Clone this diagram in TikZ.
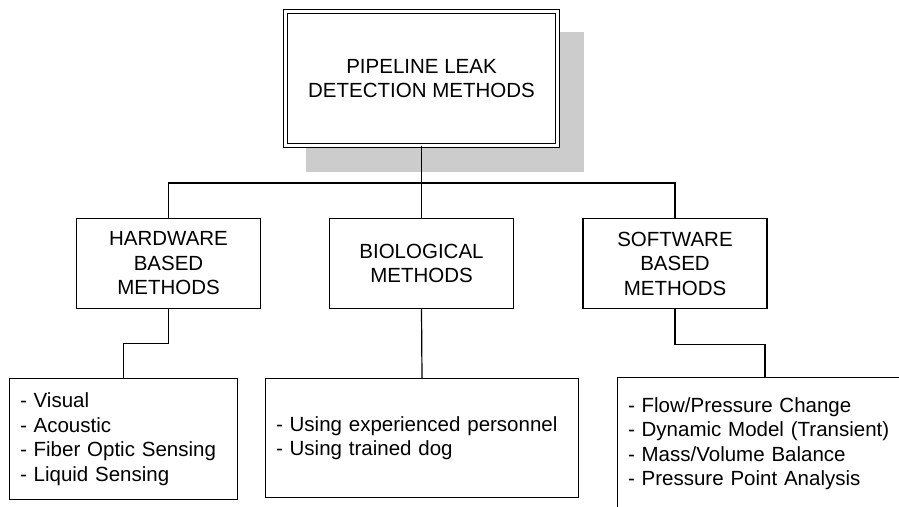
\documentclass[tikz,border=0pt]{standalone}
\usepackage{fontspec}
\setmainfont{Liberation Sans}
\usepackage{tikz}
\usetikzlibrary{calc}

\begin{document}
\begin{tikzpicture}[x=1pt,y=-1pt,
		every node/.style={font=\fontsize{20.5}{24.5}\selectfont},
		headbox/.style={draw,line width=1.2pt,fill=white,double,double distance=2.8pt,align=center,minimum width=272,minimum height=134},
		groupbox/.style={draw,line width=1.2pt,align=center,minimum width=184,minimum height=90},
		listbox/.style={draw,line width=1.2pt,align=left,inner xsep=10.5pt},
		link/.style={line width=1.2pt}]
			\useasboundingbox (0,0) rectangle (899,506);
			
			%shadow
			\fill[black!20] (306,32) rectangle (584,172);
			%top
			\node[headbox] (root) at (421.5,78.5) {PIPELINE LEAK\\DETECTION METHODS};
			
			%groups
			\node[groupbox] (hw) at (168.5,263.5) {HARDWARE\\BASED\\METHODS};
			\node[groupbox] (bio) at (421.5,263.5) {BIOLOGICAL\\METHODS};
			\node[groupbox] (sw) at (675,263.5) {SOFTWARE\\BASED\\METHODS};
			
			%lists
			\node[listbox,text width=207,minimum height=121] (hwlist) at (123.5,439) {- Visual\\- Acoustic\\- Fiber Optic Sensing\\- Liquid Sensing};
			\node[listbox,text width=292,minimum height=119] (biolist) at (422,438) {- Using experienced personnel\\- Using trained dog};
			\node[listbox,text width=274,minimum height=132] (swlist) at (765,443.5) {- Flow/Pressure Change\\- Dynamic Model (Transient)\\- Mass/Volume Balance\\- Pressure Point Analysis};
			
			%links
			\coordinate (bus) at (421.5,183);
			\draw[link] (root.south) -- (bus);
			\draw[link] (bus) -| (hw.north);
			\draw[link] (bus) -- (bio.north);
			\draw[link] (bus) -| (sw.north);
			\draw[link] (hw.south) -- ++(0,34) -| (hwlist.north);
			\draw[link] (bio.south) -- (biolist.north);
			\draw[link] (sw.south) -- ++(0,35) -| (swlist.north);
			
			\end{tikzpicture}
\end{document}
